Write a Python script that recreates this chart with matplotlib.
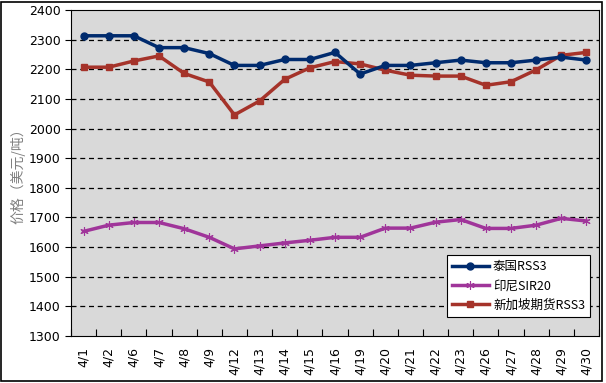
import numpy as np
import matplotlib.pyplot as plt
from matplotlib.patches import Rectangle

plt.rcParams['font.family'] = ['Noto Sans CJK SC', 'DejaVu Sans']

dates = ['4/1', '4/2', '4/6', '4/7', '4/8', '4/9', '4/12', '4/13', '4/14', '4/15', '4/16',
         '4/19', '4/20', '4/21', '4/22', '4/23', '4/26', '4/27', '4/28', '4/29', '4/30']
thai = [2313, 2313, 2313, 2273, 2273, 2253, 2213, 2213, 2233, 2233, 2257,
        2184, 2213, 2213, 2222, 2231, 2222, 2222, 2231, 2241, 2231]
indo = [1653, 1674, 1683, 1683, 1662, 1633, 1594, 1604, 1614, 1623, 1633,
        1633, 1664, 1664, 1684, 1693, 1663, 1663, 1674, 1697, 1688]
sgp = [2207, 2207, 2228, 2245, 2186, 2157, 2046, 2093, 2166, 2205, 2226,
       2218, 2197, 2180, 2177, 2177, 2146, 2158, 2198, 2247, 2257]
yticks = np.arange(1300, 2401, 100)

fig = plt.figure(figsize=(6.06, 3.83), dpi=100)
ax = fig.add_axes([71/606, 1 - 336/383, (599-71)/606, (336-10)/383])
fig.patches.append(Rectangle((0.002, 0.006), 0.991, 0.99, transform=fig.transFigure,
                             fill=False, edgecolor='black', linewidth=1.2))

ax.set_facecolor('#d9d9d9')
x = np.arange(len(dates))
ax.plot(x, thai, color='#002b6e', lw=2.5, marker='o', ms=5, label='泰国RSS3', zorder=4)
ax.plot(x, indo, color='#a0359a', lw=2.5, marker=(6, 2, 0), ms=6, mew=0.8, label='印尼SIR20', zorder=3)
ax.plot(x, sgp, color='#a5332a', lw=2.5, marker='s', ms=5, label='新加坡期货RSS3', zorder=3)

ax.set_ylim(1300, 2400)
ax.set_xlim(-0.5, len(dates) - 0.5)
ax.set_yticks(yticks)
ax.set_yticklabels([str(v) for v in yticks], fontsize=9, family='DejaVu Sans')
for v in yticks[1:-1]:
    ax.axhline(v, color='black', lw=0.9, ls=(0, (4, 3)), zorder=1)

ax.set_xticks(x)
ax.set_xticklabels(dates, rotation=90, fontsize=9, family='DejaVu Sans')
ax.tick_params(axis='x', length=0, pad=8)
ax.set_xticks(np.arange(-0.5, len(dates), 1), minor=True)
ax.tick_params(axis='x', which='minor', direction='in', length=5, width=0.8)
ax.tick_params(axis='y', direction='out', length=4, width=0.8)
for s in ['top', 'right']:
    ax.spines[s].set_linewidth(0.8)

ax.set_ylabel('价格（美元/吨）', fontsize=10, color='#7f7f7f', labelpad=2)

leg = ax.legend(loc='lower right', bbox_to_anchor=(0.995, 0.04), fontsize=9,
                frameon=True, fancybox=False, edgecolor='black', framealpha=1,
                borderpad=0.4, labelspacing=0.5, handlelength=3, handletextpad=0.3)
leg.get_frame().set_linewidth(0.8)

fig.savefig('out.png', dpi=100)
